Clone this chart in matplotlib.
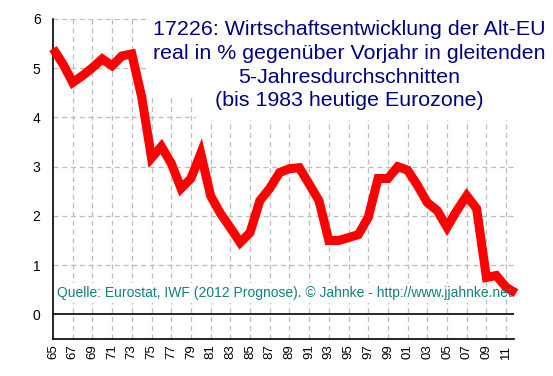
import matplotlib.pyplot as plt
from matplotlib.patches import Rectangle

# Jahre 1965..2012, gleitende 5-Jahres-Durchschnitte (in %)
jahre = list(range(1965, 2013))
wachstum = [5.40, 5.09, 4.71, 4.85, 5.01, 5.19, 5.05, 5.25, 5.29, 4.42,
            3.18, 3.41, 3.07, 2.56, 2.76, 3.27, 2.41, 2.05, 1.76, 1.46,
            1.66, 2.31, 2.56, 2.88, 2.96, 2.98, 2.65, 2.31, 1.50, 1.50,
            1.56, 1.62, 1.97, 2.76, 2.76, 3.00, 2.93, 2.62, 2.27, 2.11,
            1.77, 2.11, 2.41, 2.15, 0.75, 0.79, 0.55, 0.43]

x_ticks = list(range(1965, 2012, 2))
x_labels = ["%02d" % (j % 100) for j in x_ticks]
y_ticks = [0, 1, 2, 3, 4, 5, 6]

titel = ["17226: Wirtschaftsentwicklung der Alt-EU",
         "real in % gegenüber Vorjahr in gleitenden",
         "5-Jahresdurchschnitten",
         "(bis 1983 heutige Eurozone)"]
quelle = "Quelle: Eurostat, IWF (2012 Prognose). © Jahnke - http://www.jjahnke.net"

plt.rcParams['font.family'] = ['Liberation Sans', 'DejaVu Sans']

W, H = 553, 376
fig = plt.figure(figsize=(W / 100, H / 100), dpi=100)
ax = fig.add_axes([53 / W, 1 - 339 / H, (514 - 53) / W, (339 - 19) / H])

ax.set_xlim(1965, 2011.8)
ax.set_ylim(-0.5, 6)

# Gitter
for j in x_ticks[1:]:
    ax.axvline(j, color='#bcbcbc', lw=0.9, ls=(0, (4, 3)), zorder=1)
for v in y_ticks[1:]:
    ax.axhline(v, color='#bcbcbc', lw=0.9, ls=(0, (4, 3)), zorder=1)
ax.axhline(0, color='black', lw=1.2, zorder=2)

# weisse Flaechen hinter Titel und Quelle (Pixel -> Figurkoordinaten)
def weiss(x0, y0, x1, y1):
    fig.add_artist(Rectangle((x0 / W, 1 - y1 / H), (x1 - x0) / W, (y1 - y0) / H,
                             transform=fig.transFigure, facecolor='white',
                             edgecolor='none', zorder=2.5))

weiss(150, 0, 553, 97)
weiss(196, 97, 553, 120)
weiss(55, 283, 485, 303)

ax.plot(jahre, wachstum, color='#ff0000', lw=6.5, solid_joinstyle='miter',
        solid_capstyle='butt', zorder=3, clip_on=False)

ax.set_xticks(x_ticks)
ax.set_xticklabels(x_labels, rotation=90, fontsize=9.5)
ax.set_yticks(y_ticks)
ax.set_yticklabels([str(v) for v in y_ticks], fontsize=10)
ax.tick_params(length=0, pad=4)
ax.tick_params(axis='y', pad=9)

for s in ['top', 'right']:
    ax.spines[s].set_visible(False)
ax.spines['left'].set_linewidth(1.2)
ax.spines['bottom'].set_linewidth(1.2)

baselines = [35, 59, 83, 106]
for zeile, b in zip(titel, baselines):
    fig.text(349 / W, 1 - b / H, zeile, ha='center', va='baseline',
             fontsize=15.4, color='#000080', zorder=4)

fig.text(57 / W, 1 - 297 / H, quelle, ha='left', va='baseline',
         fontsize=10, color='#128080', zorder=4)

fig.savefig('out.png', dpi=100)
